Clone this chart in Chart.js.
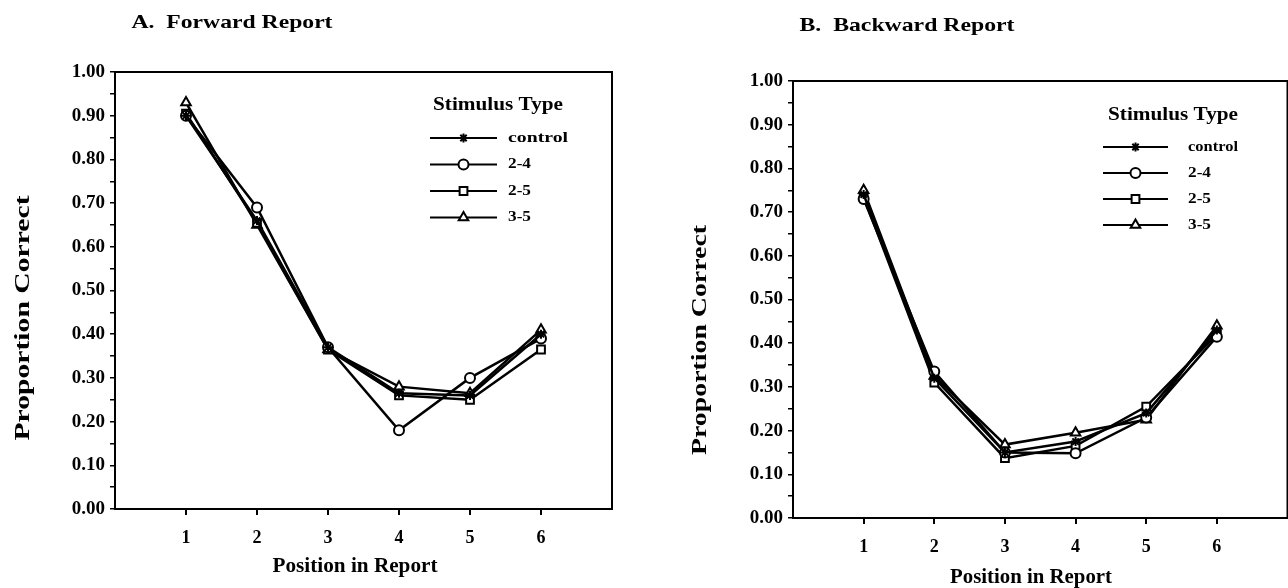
<!DOCTYPE html>
<html>
<head>
<meta charset="utf-8">
<script src="https://cdn.jsdelivr.net/npm/chart.js@4.4.1/dist/chart.umd.min.js"></script>
<style>
  html, body { margin: 0; padding: 0; background: #fff; }
  #wrap { position: relative; width: 1288px; height: 588px; overflow: hidden; }
  .panel { position: absolute; top: 0; height: 588px; }
</style>
</head>
<body>
<div id="wrap">
  <div class="panel" style="left:0;width:644px"><canvas id="forward" width="644" height="588"></canvas></div>
  <div class="panel" style="left:644px;width:651px"><canvas id="backward" width="651" height="588"></canvas></div>
</div>
<script>
// ---- data ----
const positions = [1, 2, 3, 4, 5, 6];
const stimulusTypes = ['control', '2-4', '2-5', '3-5'];

// A. Forward report
const forwardControl = [0.90, 0.66, 0.37, 0.265, 0.26, 0.40];
const forward24      = [0.90, 0.69, 0.37, 0.18, 0.30, 0.39];
const forward25      = [0.905, 0.655, 0.365, 0.26, 0.25, 0.365];
const forward35      = [0.93, 0.65, 0.365, 0.28, 0.265, 0.41];

// B. Backward report
const backwardControl = [0.74, 0.32, 0.15, 0.175, 0.24, 0.43];
const backward24      = [0.73, 0.335, 0.15, 0.148, 0.23, 0.415];
const backward25      = [0.735, 0.31, 0.137, 0.165, 0.255, 0.42];
const backward35      = [0.75, 0.325, 0.168, 0.195, 0.225, 0.44];

const yTickLabels = ['0.00', '0.10', '0.20', '0.30', '0.40', '0.50', '0.60', '0.70', '0.80', '0.90', '1.00'];

const SERIF = "'Liberation Serif', 'Times New Roman', serif";
const MARKERS = [
  { pointStyle: 'star', radius: 4.5 },
  { pointStyle: 'circle', radius: 5 },
  { pointStyle: 'rect', radius: 5.5 },
  { pointStyle: 'triangle', radius: 5.5 },
];

function makeDatasets(seriesList) {
  return seriesList.map((values, i) => ({
    label: stimulusTypes[i],
    data: positions.map((p, j) => ({ x: p, y: values[j] })),
    borderColor: '#000',
    borderWidth: 2.5,
    backgroundColor: i === 0 ? '#000' : '#fff',
    pointBackgroundColor: i === 0 ? '#000' : '#fff',
    pointBorderColor: '#000',
    pointBorderWidth: 2,
    pointStyle: MARKERS[i].pointStyle,
    pointRadius: MARKERS[i].radius,
    tension: 0,
    fill: false,
  }));
}

// scanned type is wider than Times, so stretch text to the measured width
function stretchText(ctx, text, x, y, width) {
  const w = ctx.measureText(text).width;
  ctx.save();
  ctx.translate(x, y);
  ctx.scale(width / w, 1);
  ctx.fillText(text, 0, 0);
  ctx.restore();
}

// frame, titles and the "Stimulus Type" key
const figureText = {
  id: 'figureText',
  beforeDatasetsDraw(chart) {
    const { ctx, chartArea: a } = chart;
    ctx.save();
    ctx.strokeStyle = '#000';
    ctx.lineWidth = 2;
    ctx.strokeRect(a.left, a.top, a.right - a.left, a.bottom - a.top);
    ctx.restore();
  },
  afterDraw(chart, args, o) {
    const ctx = chart.ctx;
    ctx.save();
    ctx.fillStyle = '#000';
    ctx.strokeStyle = '#000';
    ctx.textBaseline = 'middle';
    ctx.textAlign = 'center';

    // panel title
    ctx.font = 'bold 19px ' + SERIF;
    stretchText(ctx, o.title, o.titleX, o.titleY, o.titleW);

    // x axis title
    ctx.font = 'bold 20px ' + SERIF;
    stretchText(ctx, o.xTitle, o.xTitleX, o.xTitleY, o.xTitleW);

    // y axis title
    ctx.save();
    ctx.translate(o.yTitleX, o.yTitleY);
    ctx.rotate(-Math.PI / 2);
    ctx.font = 'bold 21px ' + SERIF;
    stretchText(ctx, o.yTitle, 0, 0, o.yTitleLen);
    ctx.restore();

    // legend
    const L = o.legend;
    ctx.font = 'bold 18px ' + SERIF;
    stretchText(ctx, 'Stimulus Type', L.titleX, L.titleY, 130);
    chart.data.datasets.forEach((ds, i) => {
      const y = L.rowY + i * L.rowGap;
      ctx.lineWidth = 2;
      ctx.beginPath();
      ctx.moveTo(L.lineX0, y);
      ctx.lineTo(L.lineX1, y);
      ctx.stroke();
      ctx.fillStyle = ds.pointBackgroundColor;
      Chart.helpers.drawPoint(ctx, {
        pointStyle: ds.pointStyle, radius: ds.pointRadius, rotation: 0, borderWidth: 2
      }, (L.lineX0 + L.lineX1) / 2, y);
      ctx.fillStyle = '#000';
      ctx.font = 'bold 15px ' + SERIF;
      const lw = i === 0 ? L.controlW : 23;
      stretchText(ctx, ds.label, L.labelX + lw / 2, y, lw);
    });
    ctx.restore();
  }
};

function makeChart(id, seriesList, geom, text) {
  return new Chart(document.getElementById(id), {
    type: 'line',
    data: { datasets: makeDatasets(seriesList) },
    plugins: [figureText],
    options: {
      responsive: false,
      animation: false,
      layout: { padding: { left: 0, top: geom.top, right: geom.right, bottom: 0 } },
      plugins: {
        legend: { display: false },
        tooltip: { enabled: false },
        figureText: text,
      },
      scales: {
        x: {
          type: 'linear',
          min: 0, max: 7,
          afterFit: (s) => { s.height = geom.xHeight; s.paddingLeft = 0; s.paddingRight = 0; },
          border: { display: true, color: '#000', width: 2 },
          grid: {
            drawOnChartArea: false, drawTicks: true, tickLength: 6, lineWidth: 2,
            color: (c) => positions.includes(c.tick && c.tick.value) ? '#000' : 'rgba(0,0,0,0)',
          },
          ticks: {
            stepSize: 1, padding: 13, color: '#000',
            font: { family: SERIF, size: 18, weight: 'bold' },
            callback: (v) => positions.includes(v) ? String(v) : '',
          },
        },
        y: {
          min: 0, max: 1,
          afterFit: (s) => { s.width = geom.yWidth; s.paddingTop = 0; s.paddingBottom = 0; },
          border: { display: true, color: '#000', width: 2 },
          grid: { drawOnChartArea: false, drawTicks: true, tickLength: 5, lineWidth: 1.5, color: '#000' },
          ticks: {
            stepSize: 0.05, padding: 5, color: '#000', autoSkip: false,
            font: { family: SERIF, size: 19, weight: 'bold' },
            callback: (v) => yTickLabels.includes(v.toFixed(2)) && Math.round(v * 100) % 10 === 0 ? v.toFixed(2) : '',
          },
        },
      },
    },
  });
}

makeChart('forward', [forwardControl, forward24, forward25, forward35],
  { top: 72, right: 32, xHeight: 79, yWidth: 115 },
  {
    title: 'A.  Forward Report', titleX: 232, titleY: 23, titleW: 201,
    xTitle: 'Position in Report', xTitleX: 355, xTitleY: 567, xTitleW: 165,
    yTitle: 'Proportion Correct', yTitleX: 24, yTitleY: 318, yTitleLen: 245,
    legend: { titleX: 498, titleY: 105, rowY: 138, rowGap: 26.5, lineX0: 430, lineX1: 497, labelX: 508, controlW: 60 },
  });

makeChart('backward', [backwardControl, backward24, backward25, backward35],
  { top: 81, right: 1, xHeight: 70, yWidth: 149 },
  {
    title: 'B.  Backward Report', titleX: 263, titleY: 26, titleW: 215,
    xTitle: 'Position in Report', xTitleX: 387, xTitleY: 578, xTitleW: 162,
    yTitle: 'Proportion Correct', yTitleX: 57, yTitleY: 340, yTitleLen: 230,
    legend: { titleX: 529, titleY: 115, rowY: 147, rowGap: 26, lineX0: 459, lineX1: 524, labelX: 544, controlW: 50 },
  });
</script>
</body>
</html>
